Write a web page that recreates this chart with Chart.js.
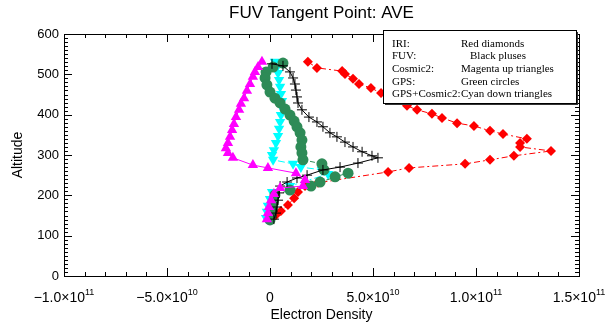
<!DOCTYPE html>
<html>
<head>
<meta charset="utf-8">
<script src="https://cdn.jsdelivr.net/npm/chart.js@4"></script>
<style>
    html, body { margin: 0; padding: 0; background: #fff; }
</style>
</head>
<body>
<canvas id="tangentChart" width="610" height="326"></canvas>
<script>
// =============================================
// Data (density in el/m^3, altitude in km)
// =============================================
const iriDensity = [1.84e10, 2.28e10, 3.50e10, 3.64e10, 4.03e10, 4.32e10, 4.90e10, 5.39e10, 6.02e10, 6.65e10,
    7.14e10, 7.86e10, 8.35e10, 9.08e10, 9.90e10, 1.068e11, 1.131e11, 1.247e11, 1.214e11, 1.214e11,
    1.364e11, 1.184e11, 1.068e11, 9.47e10, 6.75e10, 5.73e10, 2.33e10, 1.70e10, 1.36e10, 1.17e10,
    8.7e9, 5.3e9, 2.9e9, 5e8];
const iriAltitude = [531, 516, 508, 501, 489, 476, 466, 454, 439, 422,
    412, 402, 392, 379, 372, 360, 352, 340, 330, 320,
    310, 298, 288, 278, 268, 258, 231, 223, 208, 193,
    176, 161, 151, 141];

const fuvDensity = [9.7e8, 6.3e9, 9.7e9, 1.12e10, 1.21e10, 1.26e10, 1.31e10, 1.36e10, 1.55e10, 1.89e10,
    2.28e10, 2.57e10, 2.91e10, 3.25e10, 3.64e10, 4.03e10, 4.47e10, 4.95e10, 5.24e10, 4.27e10,
    3.40e10, 2.57e10, 1.80e10, 1.31e10, 8.3e9, 4.9e9, 4.4e9, 3.9e9, 3.4e9, 2.9e9, 1.9e9];
const fuvAltitude = [526, 521, 506, 491, 476, 461, 444, 429, 412, 394,
    382, 370, 355, 345, 332, 320, 308, 298, 293, 280,
    270, 263, 250, 243, 233, 223, 206, 188, 171, 156, 141];

const cosmicDensity = [-3.9e9, -5.8e9, -7.3e9, -8.3e9, -9.7e9, -1.12e10, -1.26e10, -1.41e10, -1.50e10, -1.65e10,
    -1.75e10, -1.84e10, -1.94e10, -2.04e10, -2.14e10, -2.04e10, -1.80e10, -8.3e9, -1.0e9, 1.26e10,
    1.70e10, 1.60e10, 4.9e9, 1.9e9, 5e8, -5e8, -1.0e9, -1.5e9];
const cosmicAltitude = [531, 518, 506, 494, 476, 459, 441, 427, 412, 394,
    377, 362, 345, 330, 317, 305, 293, 275, 268, 255,
    238, 223, 218, 203, 188, 171, 156, 141];

const gpsDensity = [6.3e9, 1.5e9, -1.9e9, -2.4e9, -1.5e9, 0, 2.4e9, 4.9e9, 7.3e9, 9.7e9,
    1.17e10, 1.31e10, 1.46e10, 1.55e10, 1.50e10, 1.55e10, 1.60e10, 2.52e10, 2.62e10, 3.16e10,
    3.79e10, 2.43e10, 1.99e10, 9.7e9, 2.4e9, 1.5e9, 1.0e9, 5e8, 0];
const gpsAltitude = [528, 518, 506, 491, 474, 456, 441, 429, 414, 399,
    384, 370, 355, 337, 320, 305, 288, 278, 263, 246,
    255, 233, 223, 213, 201, 184, 166, 151, 139];

const comboDensity = [2.4e9, 3.4e9, 3.9e9, 4.4e9, 4.9e9, 5.3e9, 5.8e9, 5.8e9, 5.3e9, 4.9e9,
    4.4e9, 3.9e9, 2.9e9, 1.9e9, 1.0e9, 1.5e9, 1.12e10, 1.50e10, 2.52e10, 2.82e10,
    9.7e9, 1.0e9, 0, -1.0e9, -1.5e9, -1.9e9];
const comboAltitude = [531, 518, 503, 486, 469, 451, 434, 417, 399, 382,
    365, 347, 330, 312, 300, 288, 278, 270, 263, 253,
    223, 208, 191, 174, 159, 144];

const xTicks = [-1e11, -5e10, 0, 5e10, 1e11, 1.5e11];
const yTicks = [0, 100, 200, 300, 400, 500, 600];

const legendRows = [
    ['IRI:', 'Red diamonds', 0],
    ['FUV:', 'Black pluses', 9],
    ['Cosmic2:', 'Magenta up triangles', 0],
    ['GPS:', 'Green circles', 0],
    ['GPS+Cosmic2:', 'Cyan down triangles', 0]
];

const toPoints = (xs, ys) => xs.map((x, i) => ({ x, y: ys[i] }));

// =============================================
// Frame, ticks, labels, legend box (IDL style)
// =============================================
function expParts(v) {
    if (v === 0) return ['0', ''];
    const e = Math.floor(Math.log10(Math.abs(v)) + 1e-9);
    const m = v / Math.pow(10, e);
    return [(m < 0 ? '\u2212' : '') + Math.abs(m).toFixed(1) + '\u00d710', String(e)];
}

const idlFrame = {
    id: 'idlFrame',
    afterDraw(chart) {
        const { ctx, chartArea: a, scales } = chart;
        const sx = scales.x, sy = scales.y;
        ctx.save();
        ctx.strokeStyle = '#000';
        ctx.fillStyle = '#000';
        ctx.lineWidth = 1;

        // box
        ctx.strokeRect(a.left + 0.5, a.top + 0.5, a.right - a.left, a.bottom - a.top);

        // x ticks (bottom + top)
        ctx.beginPath();
        for (let v = -1e11; v <= 1.5e11 + 1; v += 1e10) {
            const px = Math.round(sx.getPixelForValue(v)) + 0.5;
            const major = Math.abs(v % 5e10) < 1;
            const len = major ? 8 : 4;
            ctx.moveTo(px, a.bottom); ctx.lineTo(px, a.bottom - len);
            ctx.moveTo(px, a.top); ctx.lineTo(px, a.top + len);
        }
        // y ticks (left + right)
        for (let v = 0; v <= 600; v += 10) {
            const py = Math.round(sy.getPixelForValue(v)) + 0.5;
            const len = v % 100 === 0 ? 8 : 4;
            ctx.moveTo(a.left, py); ctx.lineTo(a.left + len, py);
            ctx.moveTo(a.right, py); ctx.lineTo(a.right - len, py);
        }
        ctx.stroke();

        // x tick labels with superscript exponent
        ctx.textBaseline = 'alphabetic';
        xTicks.forEach(v => {
            const [base, sup] = expParts(v);
            ctx.font = '14px "Liberation Sans", Arial, sans-serif';
            const wb = ctx.measureText(base).width;
            ctx.font = '9px "Liberation Sans", Arial, sans-serif';
            const ws = sup ? ctx.measureText(sup).width : 0;
            const x0 = sx.getPixelForValue(v) - (wb + ws) / 2;
            ctx.textAlign = 'left';
            ctx.font = '14px "Liberation Sans", Arial, sans-serif';
            ctx.fillText(base, x0, 302);
            if (sup) {
                ctx.font = '9px "Liberation Sans", Arial, sans-serif';
                ctx.fillText(sup, x0 + wb, 295);
            }
        });

        // y tick labels
        ctx.font = '13px "Liberation Sans", Arial, sans-serif';
        ctx.textAlign = 'right';
        ctx.textBaseline = 'middle';
        yTicks.forEach(v => ctx.fillText(String(v), a.left - 5, sy.getPixelForValue(v)));

        // titles
        ctx.textAlign = 'center';
        ctx.font = '17px "Liberation Sans", Arial, sans-serif';
        ctx.fillText('FUV Tangent Point: AVE', (a.left + a.right) / 2, 13);
        ctx.font = '14px "Liberation Sans", Arial, sans-serif';
        ctx.fillText('Electron Density', (a.left + a.right) / 2, 315);
        ctx.save();
        ctx.translate(18, 155);
        ctx.rotate(-Math.PI / 2);
        ctx.fillText('Altitude', 0, 0);
        ctx.restore();

        // legend box
        const bx = 383, by = 30, bw = 193, bh = 73;
        ctx.fillStyle = '#333';
        ctx.fillRect(bx + 2, by + 2, bw, bh);
        ctx.fillStyle = '#fff';
        ctx.fillRect(bx, by, bw, bh);
        ctx.strokeStyle = '#000';
        ctx.lineWidth = 1;
        ctx.strokeRect(bx + 0.5, by + 0.5, bw, bh);
        ctx.fillStyle = '#000';
        ctx.font = '11px "Liberation Serif", "Times New Roman", serif';
        ctx.textAlign = 'left';
        ctx.textBaseline = 'middle';
        legendRows.forEach(([k, txt, dx], i) => {
            const y = by + 14 + i * 12.6;
            ctx.fillText(k, bx + 9, y);
            ctx.fillText(txt, bx + 78 + dx, y);
        });

        ctx.restore();
    }
};

// =============================================
// Chart
// =============================================
const ctx = document.getElementById('tangentChart');
new Chart(ctx, {
    type: 'scatter',
    data: {
        datasets: [
            {
                label: 'Cosmic2',
                data: toPoints(cosmicDensity, cosmicAltitude),
                showLine: true,
                borderColor: '#ff00ff',
                backgroundColor: '#ff00ff',
                borderWidth: 1,
                pointStyle: 'triangle',
                pointRadius: 6,
                pointBorderWidth: 0,
                order: 0
            },
            {
                label: 'FUV',
                data: toPoints(fuvDensity, fuvAltitude),
                showLine: true,
                borderColor: '#000',
                backgroundColor: '#000',
                borderWidth: 1,
                pointStyle: 'cross',
                pointRadius: 5,
                pointBorderWidth: 1,
                order: 1
            },
            {
                label: 'GPS',
                data: toPoints(gpsDensity, gpsAltitude),
                showLine: true,
                borderColor: '#2e8b57',
                backgroundColor: '#2e8b57',
                borderWidth: 1,
                borderDash: [5, 4],
                pointStyle: 'circle',
                pointRadius: 5.5,
                pointBorderWidth: 0,
                order: 2
            },
            {
                label: 'GPS+Cosmic2',
                data: toPoints(comboDensity, comboAltitude),
                showLine: true,
                borderColor: '#00ffff',
                backgroundColor: '#00ffff',
                borderWidth: 1,
                borderDash: [7, 3, 2, 3],
                pointStyle: 'triangle',
                rotation: 180,
                pointRadius: 6,
                pointBorderWidth: 0,
                order: 3
            },
            {
                label: 'IRI',
                data: toPoints(iriDensity, iriAltitude),
                showLine: true,
                borderColor: '#ff0000',
                backgroundColor: '#ff0000',
                borderWidth: 1,
                borderDash: [6, 3, 2, 3],
                pointStyle: 'rectRot',
                pointRadius: 5,
                pointBorderWidth: 0,
                order: 4
            }
        ]
    },
    options: {
        responsive: false,
        animation: false,
        layout: { padding: { left: 64, right: 31, top: 34, bottom: 50 } },
        plugins: {
            legend: { display: false },
            tooltip: { enabled: false }
        },
        scales: {
            x: { type: 'linear', min: -1e11, max: 1.5e11, display: false },
            y: { type: 'linear', min: 0, max: 600, display: false }
        }
    },
    plugins: [idlFrame]
});
</script>
</body>
</html>
